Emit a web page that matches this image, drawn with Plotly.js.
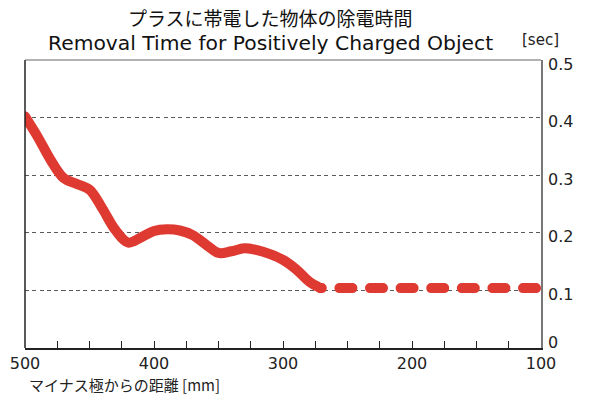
<!DOCTYPE html>
<html>
<head>
<meta charset="utf-8">
<script src="https://cdn.plot.ly/plotly-3.0.1.min.js"></script>
<style>
  html, body { margin: 0; padding: 0; background: #fff; }
  #chart { width: 593px; height: 398px; }
  .scatterlayer .js-line { stroke-linecap: round; }
  .scatterlayer .trace:nth-of-type(2) .js-line { stroke-dashoffset: 11.6px; }
</style>
</head>
<body>
<div id="chart"></div>
<script>
// Distance from the negative pole [mm] and removal time [sec]
const measuredDistance = [500, 490, 480, 470, 460, 450, 440, 430, 420, 410, 400, 390, 380, 370, 360, 350, 340, 330, 320, 310, 300, 290, 280, 271];
const measuredTime     = [0.402, 0.366, 0.326, 0.295, 0.285, 0.275, 0.242, 0.205, 0.183, 0.192, 0.203, 0.206, 0.204, 0.196, 0.180, 0.165, 0.168, 0.173, 0.170, 0.163, 0.153, 0.137, 0.116, 0.104];
const extrapDistance   = [271, 100];
const extrapTime       = [0.104, 0.104];
const xTicks = [500, 400, 300, 200, 100];
const yTicks = [0, 0.1, 0.2, 0.3, 0.4, 0.5];
const titleJa = 'プラスに帯電した物体の除電時間';
const titleEn = 'Removal Time for Positively Charged Object';
const unitY = '[sec]';
const xTitle = 'マイナス極からの距離 [mm]';

const red = '#df3a32';
const traces = [
  { x: measuredDistance, y: measuredTime, type: 'scatter', mode: 'lines',
    line: { color: red, width: 10, shape: 'spline', smoothing: 1 }, hoverinfo: 'skip' },
  { x: extrapDistance, y: extrapTime, type: 'scatter', mode: 'lines',
    line: { color: red, width: 10, dash: '13px,17.6px' }, hoverinfo: 'skip' }
];

const tickFont = { family: 'DejaVu Sans', size: 16, color: '#222' };

// y tick labels as text next to the right axis (the "0" label sits a little higher, as in the reference)
const yLabelAnnotations = yTicks.map(v => ({
  text: String(v), xref: 'paper', yref: 'y', x: 1, y: v, xanchor: 'left', yanchor: 'middle',
  xshift: 5, yshift: v === 0 ? 6 : -4, showarrow: false, font: tickFont
}));

const layout = {
  width: 593, height: 398,
  margin: { l: 25, r: 52, t: 60, b: 50 },
  paper_bgcolor: '#fff', plot_bgcolor: '#fff',
  showlegend: false,
  xaxis: {
    range: [500, 100], tickvals: xTicks, ticktext: xTicks.map(String),
    ticks: 'inside', ticklen: 7, tickcolor: '#222', tickwidth: 1,
    minor: { dtick: 25, tick0: 0, ticks: 'inside', ticklen: 7, tickcolor: '#222', tickwidth: 1, showgrid: false },
    showgrid: false, zeroline: false,
    showline: true, linecolor: '#222', linewidth: 1.5,
    tickfont: tickFont, fixedrange: true
  },
  yaxis: {
    side: 'right', range: [0, 0.5], tickvals: yTicks, showticklabels: false,
    ticks: '', showgrid: true, gridcolor: '#5a5a5a', gridwidth: 1, griddash: '4px,3.3px',
    zeroline: false, showline: true, linecolor: '#777', linewidth: 1.5,
    fixedrange: true
  },
  shapes: [
    { type: 'line', xref: 'paper', yref: 'paper', x0: 0, x1: 0, y0: 0, y1: 1, line: { color: '#222', width: 1.5 } },
    { type: 'line', xref: 'paper', yref: 'paper', x0: 0, x1: 1, y0: 1, y1: 1, line: { color: '#666', width: 1.2 } }
  ],
  annotations: [
    { text: titleJa, xref: 'paper', yref: 'paper', x: 0.4767, y: 1.149, xanchor: 'center', yanchor: 'middle',
      showarrow: false, font: { family: 'Noto Sans CJK JP', size: 19, color: '#111' } },
    { text: titleEn, xref: 'paper', yref: 'paper', x: 0.4767, y: 1.059, xanchor: 'center', yanchor: 'middle',
      showarrow: false, font: { family: 'DejaVu Sans', size: 20.3, color: '#111' } },
    { text: unitY, xref: 'paper', yref: 'paper', x: 0.999, y: 1.069, xanchor: 'center', yanchor: 'middle',
      showarrow: false, font: { family: 'DejaVu Sans', size: 15, color: '#222' } },
    { text: xTitle, xref: 'paper', yref: 'paper', x: 0.004, y: -0.128, xanchor: 'left', yanchor: 'middle',
      showarrow: false, font: { family: 'Noto Sans CJK JP', size: 15, color: '#222' } }
  ].concat(yLabelAnnotations)
};

Plotly.newPlot('chart', traces, layout, { staticPlot: true, displayModeBar: false });
</script>
</body>
</html>
